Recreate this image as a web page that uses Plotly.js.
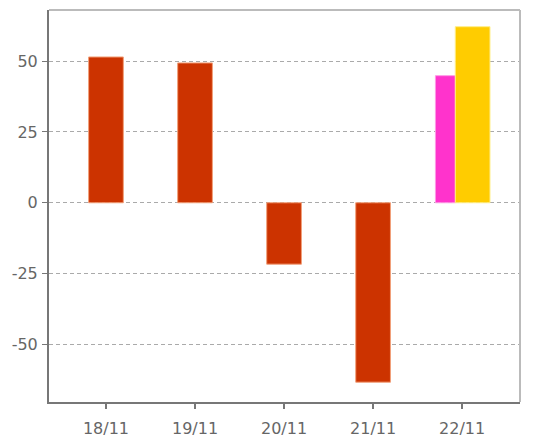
<!DOCTYPE html>
<html>
<head>
<meta charset="utf-8">
<script src="https://cdn.plot.ly/plotly-3.0.1.min.js"></script>
<style>html,body{margin:0;padding:0;background:#fff;}#chart{width:536px;height:446px;}</style>
</head>
<body>
<div id="chart"></div>
<script>
var categories = ["18/11", "19/11", "20/11", "21/11", "22/11"];
var mainValues = [51.5, 49.4, -21.7, -63.4, null];
var pinkCategories = ["22/11"];
var pinkValues = [44.9];
var yellowCategories = ["22/11"];
var yellowValues = [62.2];
var yTicks = [-50, -25, 0, 25, 50];
var yTickLabels = ["-50", "-25", "0", "25", "50"];

var traces = [
  {type: "bar", x: categories, y: mainValues, width: 0.39,
   marker: {color: "#CC3300", line: {color: "#F2A07A", width: 1}}, hoverinfo: "none"},
  {type: "bar", x: pinkCategories, y: pinkValues, width: 0.225, offset: -0.30,
   marker: {color: "#FF33CC", line: {color: "#FF99E6", width: 1}}, hoverinfo: "none"},
  {type: "bar", x: yellowCategories, y: yellowValues, width: 0.39, offset: -0.077,
   marker: {color: "#FFCC00", line: {color: "#FFEE88", width: 1}}, hoverinfo: "none"}
];

var layout = {
  width: 536, height: 446,
  margin: {l: 49, r: 16, t: 10, b: 44, pad: 0},
  paper_bgcolor: "#fff", plot_bgcolor: "#fff",
  showlegend: false,
  barmode: "overlay",
  font: {family: "DejaVu Sans, sans-serif", size: 16, color: "#666"},
  xaxis: {
    type: "category", range: [-0.64, 4.65],
    showgrid: false, zeroline: false,
    showline: true, linecolor: "#777", linewidth: 2,
    ticks: "outside", ticklen: 5, tickwidth: 2, tickcolor: "#777",
    ticklabelstandoff: 6,
    tickfont: {size: 16, color: "#666"}, fixedrange: true
  },
  yaxis: {
    range: [-70.4, 68.1], tickvals: yTicks, ticktext: yTickLabels,
    showgrid: true, gridcolor: "#aaaaaa", griddash: "4px,3px", gridwidth: 1,
    zeroline: false,
    showline: true, linecolor: "#777", linewidth: 2,
    ticks: "outside", ticklen: 5, tickwidth: 1, tickcolor: "#777",
    ticklabelstandoff: 1,
    tickfont: {size: 16, color: "#666"}, fixedrange: true
  },
  shapes: [
    {type: "line", xref: "paper", yref: "paper", x0: 0, x1: 1, y0: 1, y1: 1,
     line: {color: "#bbbbbb", width: 2}},
    {type: "line", xref: "paper", yref: "paper", x0: 1, x1: 1, y0: 0, y1: 1,
     line: {color: "#bbbbbb", width: 2}}
  ]
};

Plotly.newPlot("chart", traces, layout, {staticPlot: true, displayModeBar: false});
</script>
</body>
</html>
